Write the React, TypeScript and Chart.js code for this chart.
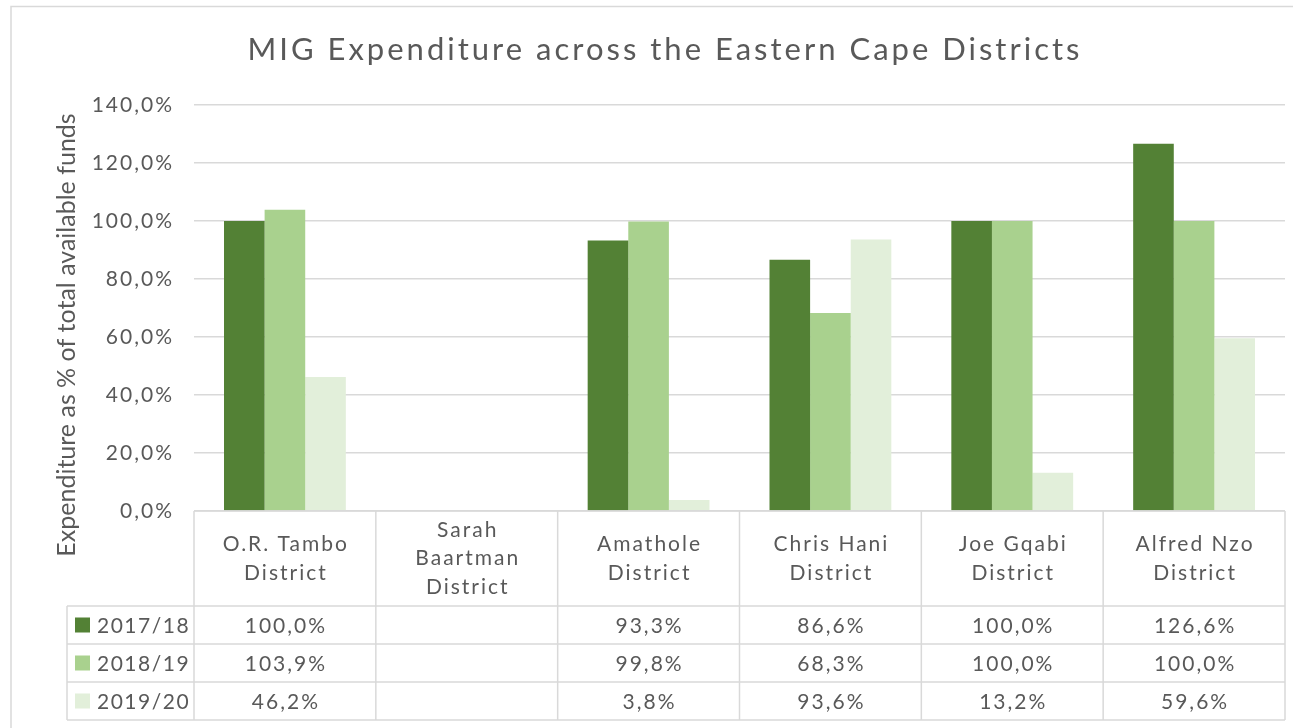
import React, { useEffect, useRef } from "react";
import { Chart, registerables } from "chart.js";

Chart.register(...registerables);

const chartTitle = "MIG Expenditure across the Eastern Cape Districts";
const yAxisTitle = "Expenditure as % of total available funds";
const categories: string[][] = [
  ["O.R. Tambo", "District"],
  ["Sarah", "Baartman", "District"],
  ["Amathole", "District"],
  ["Chris Hani", "District"],
  ["Joe Gqabi", "District"],
  ["Alfred Nzo", "District"],
];
const seriesNames = ["2017/18", "2018/19", "2019/20"];
const values1718: (number | null)[] = [100.0, null, 93.3, 86.6, 100.0, 126.6];
const values1819: (number | null)[] = [103.9, null, 99.8, 68.3, 100.0, 100.0];
const values1920: (number | null)[] = [46.2, null, 3.8, 93.6, 13.2, 59.6];
const seriesColors = ["#538135", "#A9D18E", "#E2EFDA"];
const yMin = 0;
const yMax = 140;
const yStep = 20;

const TEXT = "#595959";
const LINE = "#d9d9d9";
const FONT = "Lato, 'Open Sans', sans-serif";

const fmt = (v: number | null) =>
  v === null || v === undefined ? "" : v.toFixed(1).replace(".", ",") + "%";

const decorPlugin = {
  id: "decor",
  beforeDraw(chart: any) {
    const ctx = chart.ctx;
    ctx.save();
    ctx.fillStyle = "#ffffff";
    ctx.fillRect(0, 0, chart.width, chart.height);
    ctx.strokeStyle = LINE;
    ctx.lineWidth = 1.5;
    ctx.beginPath();
    ctx.moveTo(11, chart.height + 5);
    ctx.lineTo(11, 6.5);
    ctx.lineTo(chart.width + 5, 6.5);
    ctx.stroke();
    ctx.restore();
    // wider letter spacing for the axis tick labels
    (ctx as any).letterSpacing = "2px";
  },
  afterDraw(chart: any) {
    const ctx = chart.ctx;
    const area = chart.chartArea;
    const xs = chart.scales.x;
    const n = categories.length;
    const half = (xs.getPixelForValue(1) - xs.getPixelForValue(0)) / 2;
    const edges: number[] = [];
    for (let i = 0; i < n; i++) edges.push(xs.getPixelForValue(i) - half);
    edges.push(xs.getPixelForValue(n - 1) + half);

    const top = area.bottom;
    const headerH = 95;
    const rowH = 38;
    const legendLeft = 67;
    const rowsTop = top + headerH;
    const bottom = rowsTop + rowH * seriesNames.length;

    ctx.save();
    // title
    ctx.fillStyle = TEXT;
    (ctx as any).letterSpacing = "3px";
    ctx.font = `31px ${FONT}`;
    ctx.textAlign = "center";
    ctx.textBaseline = "middle";
    ctx.fillText(chartTitle, 665, 50);

    // y axis title
    ctx.save();
    (ctx as any).letterSpacing = "0px";
    ctx.translate(67, 335);
    ctx.rotate(-Math.PI / 2);
    ctx.font = `25px ${FONT}`;
    ctx.fillText(yAxisTitle, 0, 0);
    ctx.restore();

    // table lines
    ctx.strokeStyle = LINE;
    ctx.lineWidth = 1.5;
    ctx.beginPath();
    ctx.moveTo(edges[0], top);
    ctx.lineTo(edges[n], top);
    for (let r = 0; r <= seriesNames.length; r++) {
      const y = rowsTop + r * rowH;
      ctx.moveTo(legendLeft, y);
      ctx.lineTo(edges[n], y);
    }
    for (let i = 0; i <= n; i++) {
      ctx.moveTo(edges[i], top);
      ctx.lineTo(edges[i], bottom);
    }
    ctx.moveTo(legendLeft, rowsTop);
    ctx.lineTo(legendLeft, bottom);
    ctx.stroke();

    // category labels
    (ctx as any).letterSpacing = "2px";
    ctx.fillStyle = TEXT;
    ctx.font = `21px ${FONT}`;
    ctx.textAlign = "center";
    ctx.textBaseline = "middle";
    const lh = 28.5;
    categories.forEach((lines, i) => {
      const cx = (edges[i] + edges[i + 1]) / 2 + 1;
      const cy = top + headerH / 2;
      const y0 = cy - ((lines.length - 1) * lh) / 2;
      lines.forEach((t, k) => ctx.fillText(t, cx, y0 + k * lh));
    });

    // rows
    const datasets = chart.data.datasets;
    datasets.forEach((ds: any, r: number) => {
      const cy = rowsTop + r * rowH + rowH / 2;
      ctx.fillStyle = ds.backgroundColor;
      ctx.fillRect(75, cy - 7.5, 15, 15);
      ctx.fillStyle = TEXT;
      ctx.textAlign = "left";
      (ctx as any).letterSpacing = "1.5px";
      ctx.fillText(ds.label, 97, cy + 1);
      (ctx as any).letterSpacing = "2px";
      ctx.textAlign = "center";
      ds.data.forEach((v: number | null, i: number) => {
        const cx = (edges[i] + edges[i + 1]) / 2 + 1;
        ctx.fillText(fmt(v), cx, cy + 1);
      });
    });
    ctx.restore();
  },
};

export default function App() {
  const ref = useRef<HTMLCanvasElement | null>(null);
  useEffect(() => {
    if (!ref.current) return;
    const allSeries = [values1718, values1819, values1920];
    const chart = new Chart(ref.current, {
      type: "bar",
      data: {
        labels: categories,
        datasets: seriesNames.map((name, i) => ({
          label: name,
          data: allSeries[i],
          backgroundColor: seriesColors[i],
          borderWidth: 0,
          barPercentage: 1,
          categoryPercentage: 0.67,
        })),
      },
      options: {
        responsive: false,
        animation: false,
        layout: { padding: { left: 0, right: 8, top: 105, bottom: 217 } },
        plugins: {
          legend: { display: false },
          tooltip: { enabled: false },
          title: { display: false },
        },
        scales: {
          x: {
            ticks: { display: false },
            grid: { display: false },
            border: { display: false },
            afterFit: (s: any) => {
              s.height = 0;
            },
          },
          y: {
            min: yMin,
            max: yMax,
            ticks: {
              stepSize: yStep,
              color: TEXT,
              font: { family: FONT, size: 21 },
              padding: 20,
              callback: (v: any) => fmt(Number(v)),
            },
            grid: { color: LINE, lineWidth: 1.5, drawTicks: false },
            border: { display: false },
            afterFit: (s: any) => {
              s.width = 194;
            },
          },
        },
      },
      plugins: [decorPlugin],
    });
    return () => chart.destroy();
  }, []);
  return (
    <div style={{ position: "fixed", left: 0, top: 0, width: 1293, height: 728, background: "#fff" }}>
      <canvas ref={ref} width={1293} height={728} />
    </div>
  );
}
